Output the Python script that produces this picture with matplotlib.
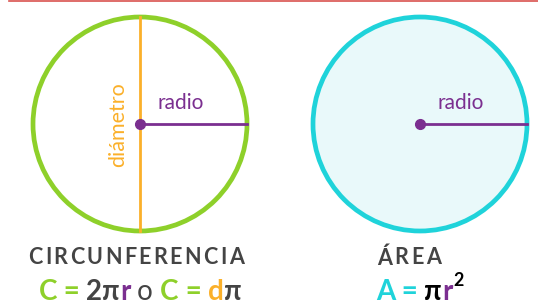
import matplotlib
matplotlib.use("Agg")
import matplotlib.pyplot as plt
from matplotlib.patches import Circle

# datos de la figura
centros_x = [140, 420]
centro_y = 124
radio = 107
colores_borde = ["#8ed02a", "#1fd3da"]
colores_relleno = ["white", "#e9f9fa"]
titulos = ["CIRCUNFERENCIA", "ÁREA"]
titulos_x = [136, 409]

verde = "#8ed02a"
cian = "#1fd3da"
naranja = "#fbb02a"
morado = "#7b2f90"
gris = "#444444"

# fórmulas en trozos (texto, color, negrita)
formula_circ = [("C", verde, True), (" = ", verde, True), ("2π", gris, True),
                ("r", morado, True), (" o ", gris, False), ("C", verde, True),
                (" = ", verde, True), ("d", naranja, True), ("π", gris, True)]
formula_area = [("A", cian, True), (" = ", cian, True), ("π", "black", True),
                ("r", morado, True)]

fig = plt.figure(figsize=(5.38, 3.05), dpi=100)
ax = fig.add_axes([0, 0, 1, 1])
ax.set_xlim(0, 538)
ax.set_ylim(305, 0)
ax.axis("off")

# línea superior roja
ax.plot([9, 538], [0.8, 0.8], color="#d9534f", lw=1.2)

for cx, cb, cr in zip(centros_x, colores_borde, colores_relleno):
    ax.add_patch(Circle((cx, centro_y), radio, facecolor=cr, edgecolor=cb, lw=3.4, zorder=2))

# diámetro y radio
ax.plot([centros_x[0], centros_x[0]], [centro_y - radio, centro_y + radio], color=naranja, lw=2, zorder=3)
for cx in centros_x:
    ax.plot([cx, cx + radio], [centro_y, centro_y], color=morado, lw=2, zorder=3)
    ax.plot(cx, centro_y, "o", color=morado, ms=7, zorder=4)
    ax.text(cx + 41, centro_y - 21, "radio", color=morado, fontsize=15,
            family="Lato", ha="center", va="center", zorder=5)

ax.text(centros_x[0] - 22, centro_y + 1, "diámetro", color=naranja, fontsize=15.5,
        family="Lato", rotation=90, ha="center", va="center", zorder=5)

fig.canvas.draw()
renderer = fig.canvas.get_renderer()


def escribir(partes, cx, y, size=20, extra=0.0):
    # mide cada trozo y los coloca uno detrás de otro
    textos = []
    for s, c, b in partes:
        t = ax.text(0, y, s, color=c, fontsize=size, family="Lato",
                    fontweight=b, ha="left", va="center")
        textos.append(t)
    anchos = [t.get_window_extent(renderer).width + extra for t in textos]
    x = cx - (sum(anchos) - extra) / 2
    for t, w in zip(textos, anchos):
        t.set_x(x)
        x += w
    return x - extra


for tx, t in zip(titulos_x, titulos):
    escribir([(ch, gris, "bold") for ch in t], tx, 258, size=15.5, extra=2.4)

escribir([(s, c, "bold" if b else "normal") for s, c, b in formula_circ], 140, 292)
fin = escribir([(s, c, "bold" if b else "normal") for s, c, b in formula_area], 414, 292)
ax.text(fin + 1, 281, "2", color="black", fontsize=13, family="Lato",
        fontweight="bold", ha="left", va="center")

fig.savefig("out.png", dpi=100)
